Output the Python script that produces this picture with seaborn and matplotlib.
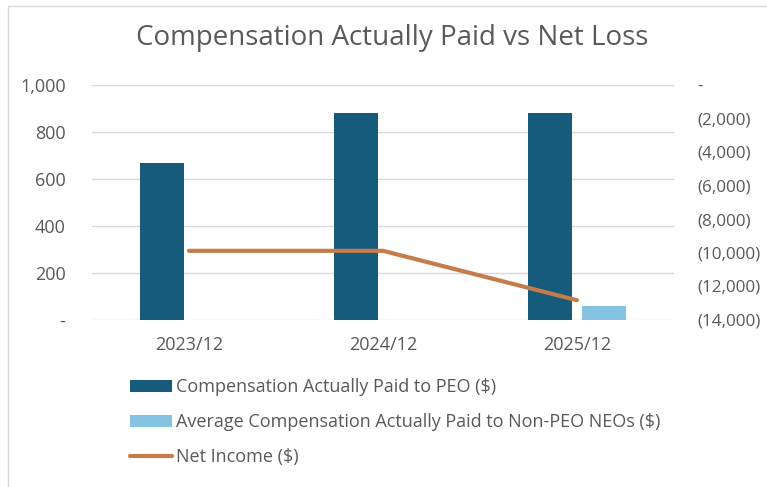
import matplotlib
matplotlib.use("Agg")
import matplotlib.pyplot as plt
import matplotlib.ticker as mticker
from matplotlib.patches import Patch
from matplotlib.lines import Line2D
import seaborn as sns
import pandas as pd

categories = ["2023/12", "2024/12", "2025/12"]
peo_cap = [666, 879, 879]
non_peo_cap = [0, 0, 57]
net_income = [-9900, -9900, -12850]

series_names = ["Compensation Actually Paid to PEO ($)",
                "Average Compensation Actually Paid to Non-PEO NEOs ($)",
                "Net Income ($)"]

c_peo = "#165a7c"
c_non = "#84c4e2"
c_line = "#c47d4a"
txt = "#595959"

sns.set_theme(style="white")
plt.rcParams['font.family'] = ['Open Sans', 'DejaVu Sans']

df = pd.DataFrame({
    "cat": categories * 2,
    "value": peo_cap + non_peo_cap,
    "series": [series_names[0]] * 3 + [series_names[1]] * 3,
})

fig = plt.figure(figsize=(7.67, 4.87), dpi=100)
ax = fig.add_axes([92 / 767, 1 - 319.5 / 487, 582 / 767, 234.5 / 487])

sns.barplot(data=df, x="cat", y="value", hue="series",
            palette=[c_peo, c_non], width=0.567, gap=0.2,
            saturation=1, ax=ax, legend=False, linewidth=0)
ax.set_ylim(0, 1000)
ax.set_yticks(range(0, 1001, 200))
ax.yaxis.set_major_formatter(mticker.FuncFormatter(
    lambda v, p: "-" if v == 0 else f"{int(v):,}"))
ax.grid(axis="y", color="#d9d9d9", linewidth=1)
ax.set_axisbelow(True)
for s in ax.spines.values():
    s.set_visible(False)
ax.set_xlabel("")
ax.set_ylabel("")
ax.tick_params(axis="x", length=0, labelsize=13, colors=txt, pad=12)
ax.tick_params(axis="y", length=0, labelsize=13, colors=txt, pad=19)

ax2 = ax.twinx()
sns.lineplot(x=list(range(len(categories))), y=net_income, color=c_line,
             linewidth=3, ax=ax2)
ax2.set_ylim(-14000, 0)
ax2.set_yticks(range(-14000, 1, 2000))
ax2.yaxis.set_major_formatter(mticker.FuncFormatter(
    lambda v, p: "-" if v == 0 else f"({abs(int(v)):,})"))
for s in ax2.spines.values():
    s.set_visible(False)
ax2.tick_params(axis="y", length=0, labelsize=12.3, colors=txt, pad=17)
ax.set_xlim(-0.5, 2.5)

fig.text(392 / 767, 1 - 45 / 487, "Compensation Actually Paid vs Net Loss",
         ha="center", va="baseline", fontsize=20, color=txt)

handles = [Patch(facecolor=c_peo, edgecolor="none"),
           Patch(facecolor=c_non, edgecolor="none"),
           Line2D([0], [0], color=c_line, linewidth=3)]
leg = fig.legend(handles, series_names, loc="upper left",
                 bbox_to_anchor=(130 / 767, 1 - 378 / 487),
                 frameon=False, fontsize=13, labelcolor=txt,
                 handlelength=2.3, handleheight=0.65, handletextpad=0.25,
                 labelspacing=0.95, borderaxespad=0, borderpad=0)

# chart area border (left and top edges visible)
fig.add_artist(Line2D([8 / 767, 8 / 767], [0, 1 - 6 / 487],
                      transform=fig.transFigure, color="#d9d9d9", linewidth=1))
fig.add_artist(Line2D([8 / 767, 1], [1 - 6 / 487, 1 - 6 / 487],
                      transform=fig.transFigure, color="#d9d9d9", linewidth=1))

fig.savefig("out.png", dpi=100)
